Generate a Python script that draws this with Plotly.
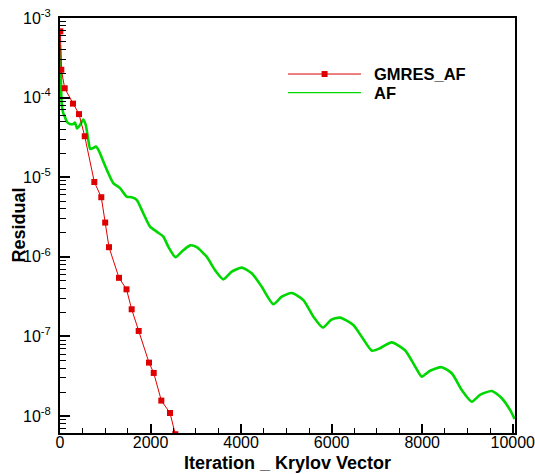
import plotly.graph_objects as go

# GMRES_AF residual history (Krylov vectors)
gmres_x = [7, 29, 104, 287, 420, 546, 758, 912, 998, 1082, 1303, 1469, 1583,
           1738, 1966, 2070, 2238, 2430, 2547]
gmres_y = [6.8e-4, 2.24e-4, 1.31e-4, 8.4e-5, 6.2e-5, 3.27e-5, 8.7e-6, 5.6e-6,
           2.69e-6, 1.32e-6, 5.44e-7, 3.9e-7, 2.19e-7, 1.17e-7, 4.68e-8,
           3.47e-8, 1.56e-8, 1.09e-8, 5.9e-9]

# AF residual history (iterations)
af_x = [0, 11, 22, 38, 73, 110, 155, 221, 294, 331, 376, 442, 515, 568, 625,
        669, 736, 795, 862, 957, 1067, 1177, 1325, 1473, 1584, 1694, 1840,
        1988, 2136, 2282, 2392, 2551, 2688, 2878, 3020, 3241, 3424, 3607,
        3793, 4014, 4235, 4456, 4712, 4898, 5119, 5375, 5596, 5803, 5987,
        6185, 6479, 6700, 6892, 7069, 7327, 7621, 7842, 7990, 8173, 8432,
        8653, 8874, 9095, 9278, 9537, 9758, 9941, 10040]
af_y = [4.58e-4, 3.14e-4, 1.44e-4, 8.3e-5, 6.35e-5, 5.7e-5, 4.93e-5, 4.66e-5,
        4.66e-5, 4.86e-5, 4.09e-5, 4.53e-5, 5.31e-5, 4.53e-5, 2.93e-5,
        2.26e-5, 2.33e-5, 2.43e-5, 2.13e-5, 1.57e-5, 1.12e-5, 8.4e-6, 7.3e-6,
        5.7e-6, 5.6e-6, 5.2e-6, 3.52e-6, 2.39e-6, 2.07e-6, 1.79e-6, 1.34e-6,
        9.9e-7, 1.16e-6, 1.39e-6, 1.32e-6, 1.0e-6, 6.8e-7, 5.2e-7, 6.5e-7,
        7.3e-7, 6.2e-7, 4.2e-7, 2.54e-7, 3.15e-7, 3.5e-7, 2.86e-7, 1.77e-7,
        1.29e-7, 1.61e-7, 1.72e-7, 1.39e-7, 9.2e-8, 6.6e-8, 7.1e-8, 8.4e-8,
        6.7e-8, 4.2e-8, 3.12e-8, 3.7e-8, 4.1e-8, 3.44e-8, 2.12e-8, 1.51e-8,
        1.84e-8, 2.06e-8, 1.67e-8, 1.19e-8, 9.2e-9]

series_names = ["GMRES_AF", "AF"]
x_tick_vals = [0, 2000, 4000, 6000, 8000, 10000]
x_tick_text = ["0", "2000", "4000", "6000", "8000", "10000"]
y_exponents = [-8, -7, -6, -5, -4, -3]

RED = "rgb(222,0,0)"
GREEN = "rgb(0,214,0)"
FONT = "Liberation Sans, Arial, sans-serif"

fig = go.Figure()
fig.add_trace(go.Scatter(
    x=af_x, y=af_y, mode="lines", name=series_names[1],
    line=dict(color=GREEN, width=2.6, shape="spline", smoothing=0.6),
    showlegend=False))
fig.add_trace(go.Scatter(
    x=gmres_x, y=gmres_y, mode="lines+markers", name=series_names[0],
    line=dict(color=RED, width=1),
    marker=dict(symbol="square", size=6, color=RED),
    showlegend=False))

y_tick_vals = [10.0 ** e for e in y_exponents]
y_tick_text = ["10<sup>%d</sup>" % e for e in y_exponents]
y_minor = [m * 10.0 ** e for e in range(-9, -3) for m in range(2, 10)]

fig.update_layout(
    width=535, height=474,
    margin=dict(l=60, r=20, t=18, b=41),
    paper_bgcolor="white", plot_bgcolor="white",
    font=dict(family=FONT, size=15, color="black"),
    showlegend=False,
    xaxis=dict(
        range=[0, 10050], tickvals=x_tick_vals, ticktext=x_tick_text,
        ticks="inside", ticklen=9, tickwidth=1.5, tickcolor="black",
        minor=dict(dtick=500, tick0=0, ticks="inside", ticklen=5,
                   tickwidth=1, tickcolor="black"),
        showline=True, linecolor="black", linewidth=2, mirror=True,
        showgrid=False, zeroline=False, ticklabeloverflow="allow",
        automargin=False,
        tickfont=dict(size=16), ticklabelstandoff=-6),
    yaxis=dict(
        type="log", range=[-8.214, -3.0],
        tickvals=y_tick_vals, ticktext=y_tick_text,
        ticks="inside", ticklen=10, tickwidth=1.5, tickcolor="black",
        minor=dict(tickvals=y_minor, ticks="inside", ticklen=6,
                   tickwidth=1, tickcolor="black"),
        showline=True, linecolor="black", linewidth=2, mirror=True,
        showgrid=False, zeroline=False, automargin=False,
        tickfont=dict(size=16), ticklabelstandoff=4),
)

# axis titles
fig.add_annotation(text="<b>Residual</b>", xref="paper", yref="paper",
                   x=-0.0923, y=0.5, textangle=-90, showarrow=False,
                   font=dict(size=18, family=FONT), xanchor="center",
                   yanchor="middle")
fig.add_annotation(text="<b>Iteration _ Krylov Vector</b>", xref="paper",
                   yref="paper", x=0.5, y=-0.072, showarrow=False,
                   font=dict(size=18, family=FONT), xanchor="center",
                   yanchor="middle")

# legend drawn manually (long sample lines as in the reference)
legend_rows = [(series_names[0], RED, 1, 0.865, True),
               (series_names[1], GREEN, 1.3, 0.820, False)]
for name, col, w, yy, mk in legend_rows:
    fig.add_shape(type="line", xref="paper", yref="paper",
                  x0=0.501, x1=0.6615, y0=yy, y1=yy,
                  line=dict(color=col, width=w))
    if mk:
        fig.add_shape(type="rect", xref="paper", yref="paper",
                      x0=0.5815 - 0.0066, x1=0.5815 + 0.0066,
                      y0=yy - 0.0072, y1=yy + 0.0072,
                      line=dict(width=0), fillcolor=col)
    fig.add_annotation(text="<b>%s</b>" % name, xref="paper", yref="paper",
                       x=0.686, y=yy, xanchor="left", yanchor="middle",
                       showarrow=False, font=dict(size=16.5, family=FONT))

fig.write_html("out.html")
